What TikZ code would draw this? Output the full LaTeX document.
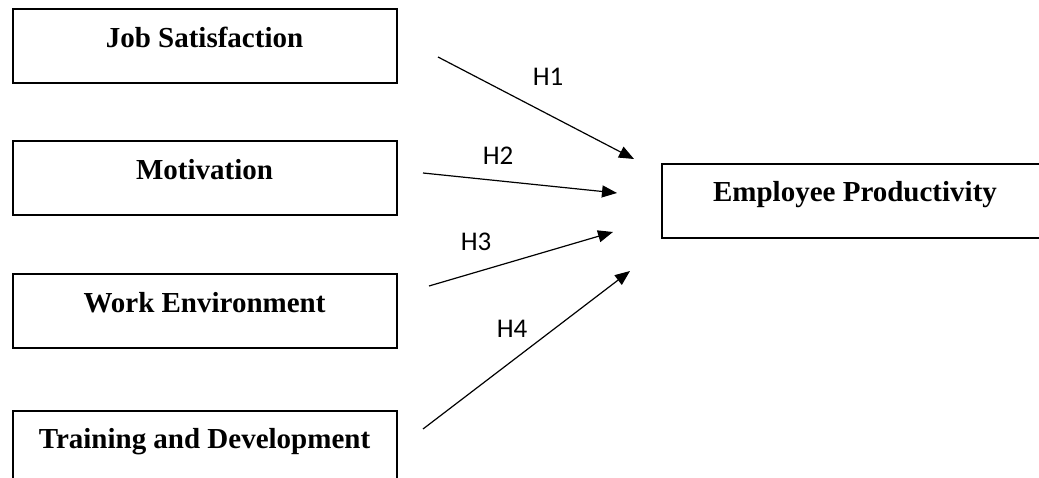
\documentclass[tikz,border=0pt]{standalone}
\usepackage{fontspec}
\setmainfont{Liberation Serif}
\newfontfamily\hfont{Carlito}
\usetikzlibrary{arrows.meta}
\usetikzlibrary{positioning}

\begin{document}
\begin{tikzpicture}[x=1pt, y=-1pt,
    varbox/.style={rectangle, draw=black, line width=2pt, minimum width=384pt, minimum height=74pt,
        text height=22pt, text depth=20pt, font=\fontsize{29}{34}\selectfont\bfseries},
    hyp/.style={-{Triangle[length=15pt, width=12pt]}, line width=1.2pt},
    hlabel/.style={font=\hfont\fontsize{27}{32}\selectfont, inner sep=0pt}]
    \useasboundingbox (0,0) rectangle (1039,478);

    % independent variables
    \node[varbox] (jobsat) at (204.5,46.5) {Job Satisfaction};
    \node[varbox] (motiv) [below=56pt of jobsat] {Motivation};
    \node[varbox] (workenv) [below=57pt of motiv] {Work Environment};
    \node[varbox] (train) [below=60pt of workenv] {Training and Development};

    % dependent variable
    \node[varbox, minimum width=386pt] (empprod) at (855,201) {Employee Productivity};

    % arrow ends
    \coordinate (s1) at (438,57);  \coordinate (t1) at (634,159);
    \coordinate (s2) at (423,173); \coordinate (t2) at (617,193);
    \coordinate (s3) at (429,286); \coordinate (t3) at (613,232);
    \coordinate (s4) at (423,429); \coordinate (t4) at (630,271);

    \draw[hyp] (s1) -- (t1);
    \draw[hyp] (s2) -- (t2);
    \draw[hyp] (s3) -- (t3);
    \draw[hyp] (s4) -- (t4);

    \node[hlabel] (h1) at (548,77) {H1};
    \node[hlabel] (h2) at (498,156) {H2};
    \node[hlabel] (h3) at (476,242) {H3};
    \node[hlabel] (h4) at (512,329) {H4};

\end{tikzpicture}
\end{document}
